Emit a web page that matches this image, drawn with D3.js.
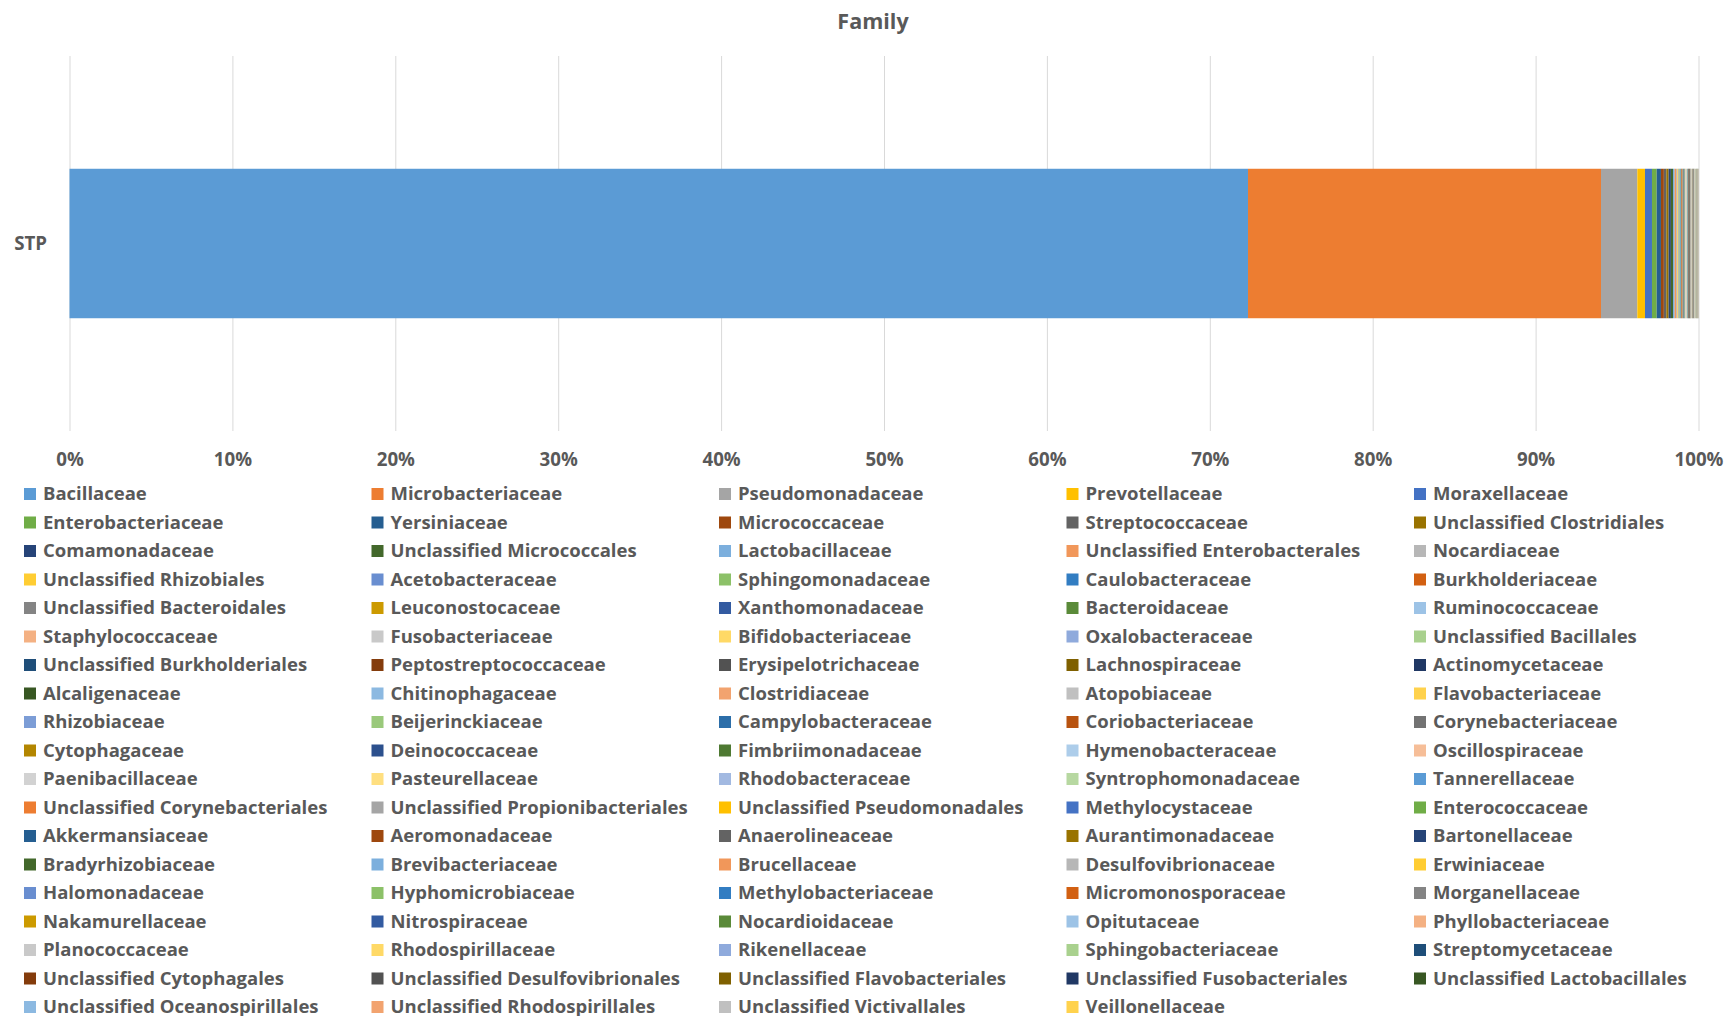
<!DOCTYPE html>
<html>
<head>
<meta charset="utf-8">
<script src="https://cdn.jsdelivr.net/npm/d3@7"></script>
<style>
  body { margin: 0; background: #ffffff; }
  text { font-family: "Open Sans", sans-serif; font-weight: 700; fill: #595959; }
</style>
</head>
<body>
<div id="chart"></div>
<script>
// Chart data
const title = "Family";
const categories = ["STP"];
const tickValues = [0, 0.1, 0.2, 0.3, 0.4, 0.5, 0.6, 0.7, 0.8, 0.9, 1];

const families = [
  "Bacillaceae", "Microbacteriaceae", "Pseudomonadaceae", "Prevotellaceae", "Moraxellaceae",
  "Enterobacteriaceae", "Yersiniaceae", "Micrococcaceae", "Streptococcaceae", "Unclassified Clostridiales",
  "Comamonadaceae", "Unclassified Micrococcales", "Lactobacillaceae", "Unclassified Enterobacterales", "Nocardiaceae",
  "Unclassified Rhizobiales", "Acetobacteraceae", "Sphingomonadaceae", "Caulobacteraceae", "Burkholderiaceae",
  "Unclassified Bacteroidales", "Leuconostocaceae", "Xanthomonadaceae", "Bacteroidaceae", "Ruminococcaceae",
  "Staphylococcaceae", "Fusobacteriaceae", "Bifidobacteriaceae", "Oxalobacteraceae", "Unclassified Bacillales",
  "Unclassified Burkholderiales", "Peptostreptococcaceae", "Erysipelotrichaceae", "Lachnospiraceae", "Actinomycetaceae",
  "Alcaligenaceae", "Chitinophagaceae", "Clostridiaceae", "Atopobiaceae", "Flavobacteriaceae",
  "Rhizobiaceae", "Beijerinckiaceae", "Campylobacteraceae", "Coriobacteriaceae", "Corynebacteriaceae",
  "Cytophagaceae", "Deinococcaceae", "Fimbriimonadaceae", "Hymenobacteraceae", "Oscillospiraceae",
  "Paenibacillaceae", "Pasteurellaceae", "Rhodobacteraceae", "Syntrophomonadaceae", "Tannerellaceae",
  "Unclassified Corynebacteriales", "Unclassified Propionibacteriales", "Unclassified Pseudomonadales", "Methylocystaceae", "Enterococcaceae",
  "Akkermansiaceae", "Aeromonadaceae", "Anaerolineaceae", "Aurantimonadaceae", "Bartonellaceae",
  "Bradyrhizobiaceae", "Brevibacteriaceae", "Brucellaceae", "Desulfovibrionaceae", "Erwiniaceae",
  "Halomonadaceae", "Hyphomicrobiaceae", "Methylobacteriaceae", "Micromonosporaceae", "Morganellaceae",
  "Nakamurellaceae", "Nitrospiraceae", "Nocardioidaceae", "Opitutaceae", "Phyllobacteriaceae",
  "Planococcaceae", "Rhodospirillaceae", "Rikenellaceae", "Sphingobacteriaceae", "Streptomycetaceae",
  "Unclassified Cytophagales", "Unclassified Desulfovibrionales", "Unclassified Flavobacteriales", "Unclassified Fusobacteriales", "Unclassified Lactobacillales",
  "Unclassified Oceanospirillales", "Unclassified Rhodospirillales", "Unclassified Victivallales", "Veillonellaceae"
];

// Relative abundance (%) for STP, same order as families
const stpValues = [
  72.35, 21.67, 2.23, 0.47, 0.43,
  0.29, 0.26, 0.18, 0.15, 0.14,
  0.14, 0.13, 0.10, 0.09, 0.08,
  0.07, 0.06, 0.06, 0.05, 0.05,
  0.04, 0.04, 0.04, 0.04, 0.03,
  0.03, 0.03, 0.03, 0.03, 0.03,
  0.03, 0.03, 0.03, 0.03, 0.03,
  0.02, 0.02, 0.02, 0.02, 0.02,
  0.02, 0.02, 0.02, 0.02, 0.02,
  0.02, 0.02, 0.02, 0.02, 0.02,
  0.006, 0.006, 0.006, 0.006, 0.006,
  0.006, 0.006, 0.006, 0.006, 0.006,
  0.006, 0.006, 0.006, 0.006, 0.006,
  0.006, 0.006, 0.006, 0.006, 0.006,
  0.004, 0.004, 0.004, 0.004, 0.004,
  0.004, 0.004, 0.004, 0.004, 0.004,
  0.004, 0.004, 0.004, 0.004, 0.004,
  0.004, 0.004, 0.004, 0.004, 0.004,
  0.004, 0.004, 0.004, 0.004
];

// Office series colours (54, then the cycle repeats)
const palette = [
  "#5B9BD5", "#ED7D31", "#A5A5A5", "#FFC000", "#4472C4", "#70AD47",
  "#255E91", "#9E480E", "#636363", "#997300", "#264478", "#43682B",
  "#7CAFDD", "#F1975A", "#B7B7B7", "#FFCD33", "#698ED0", "#8CC168",
  "#327DC2", "#D26012", "#848484", "#CC9A00", "#335BA1", "#5A8A39",
  "#9DC3E6", "#F4B183", "#C9C9C9", "#FFD966", "#8FAADC", "#A9D18E",
  "#1F4E79", "#843C0C", "#525252", "#7F6000", "#203864", "#385723",
  "#8CB9E1", "#F2A36F", "#C0C0C0", "#FFD24D", "#7C9DD6", "#9AC97B",
  "#2C6EA9", "#B85310", "#737373", "#B38600", "#2C508D", "#4E7932",
  "#ADCDEA", "#F6BE98", "#D2D2D2", "#FFDF80", "#A2B9E1", "#B7D8A1"
];

const width = 1727, height = 1016;
const plot = { left: 69.5, right: 1698.5, top: 56, bottom: 431 };

const svg = d3.select("#chart")
  .append("svg")
  .attr("width", width)
  .attr("height", height);

// Scales
const x = d3.scaleLinear().domain([0, 1]).range([plot.left, plot.right]);
const y = d3.scaleBand().domain(categories).range([plot.top, plot.bottom]).padding(0.43);

// Gridlines + tick labels
const xAxis = svg.append("g")
  .attr("transform", "translate(0," + plot.bottom + ")")
  .call(d3.axisBottom(x)
    .tickValues(tickValues)
    .tickFormat(d3.format(".0%"))
    .tickSize(-(plot.bottom - plot.top)));
xAxis.select(".domain").remove();
xAxis.selectAll("line").attr("stroke", "#D9D9D9").attr("stroke-width", 1);
xAxis.selectAll("text")
  .attr("y", 28)
  .attr("dy", "0.35em")
  .attr("fill", "#595959")
  .style("font-size", "18.7px");

// 100% stacked bar: normalise, then accumulate
const total = d3.sum(stpValues);
const ends = d3.cumsum(stpValues.map(v => v / total));
const segments = stpValues.map(function (v, i) {
  return { name: families[i], x0: i === 0 ? 0 : ends[i - 1], x1: ends[i], color: palette[i % palette.length] };
});

svg.append("g")
  .selectAll("rect")
  .data(segments)
  .enter()
  .append("rect")
  .attr("x", d => x(d.x0))
  .attr("width", d => Math.max(0, x(d.x1) - x(d.x0)))
  .attr("y", y("STP"))
  .attr("height", y.bandwidth())
  .attr("fill", d => d.color);

// Category label
svg.append("g")
  .selectAll("text")
  .data(categories)
  .enter()
  .append("text")
  .attr("x", 47)
  .attr("y", d => y(d) + y.bandwidth() / 2)
  .attr("dy", "0.35em")
  .attr("text-anchor", "end")
  .style("font-size", "18.7px")
  .text(d => d);

// Title
svg.append("text")
  .attr("x", 873)
  .attr("y", 21)
  .attr("dy", "0.35em")
  .attr("text-anchor", "middle")
  .style("font-size", "21.5px")
  .text(title);

// Legend: 5 columns, row by row
const legend = svg.append("g")
  .selectAll(".legend-item")
  .data(segments)
  .enter()
  .append("g")
  .attr("class", "legend-item")
  .attr("transform", function (d, i) {
    return "translate(" + (24 + (i % 5) * 347.5) + "," + (494 + Math.floor(i / 5) * 28.5) + ")";
  });

legend.append("rect")
  .attr("x", 0)
  .attr("y", -6)
  .attr("width", 12)
  .attr("height", 12)
  .attr("fill", d => d.color);

legend.append("text")
  .attr("x", 19)
  .attr("dy", "0.35em")
  .style("font-size", "18.5px")
  .text(d => d.name);
</script>
</body>
</html>
